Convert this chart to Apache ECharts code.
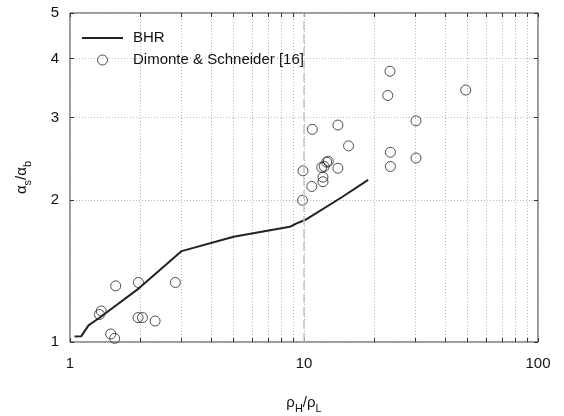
<!DOCTYPE html>
<html>
<head>
<meta charset="utf-8">
<script src="https://cdn.jsdelivr.net/npm/echarts@6/dist/echarts.min.js"></script>
<style>
  html, body { margin: 0; padding: 0; background: #fff; }
  #chart { width: 564px; height: 416px; }
</style>
</head>
<body>
<div id="chart"></div>
<script>
// BHR model curve
var bhrX = [1.045, 1.116, 1.2, 1.35, 1.97, 3.0, 5.0, 8.7, 9.3, 10.1, 14.5, 18.8];
var bhrY = [1.027, 1.028, 1.085, 1.13, 1.30, 1.56, 1.673, 1.757, 1.787, 1.816, 2.03, 2.21];

// Dimonte & Schneider [16] experiments
var dsX = [1.568, 1.96, 2.82, 1.36, 1.336, 1.954, 2.04, 2.31, 1.493, 1.552,
  9.9, 10.85, 13.96, 15.5, 11.9, 12.2, 12.5, 12.7, 13.96, 12.05, 12.05, 10.8, 9.85,
  23.3, 22.8, 49.1, 30.1, 23.4, 30.1, 23.4];
var dsY = [1.316, 1.338, 1.338, 1.164, 1.144, 1.127, 1.127, 1.108, 1.04, 1.018,
  2.31, 2.83, 2.89, 2.61, 2.35, 2.36, 2.41, 2.42, 2.34, 2.24, 2.19, 2.14, 2.0,
  3.76, 3.34, 3.43, 2.95, 2.53, 2.46, 2.36];

var xTicks = [1, 2, 3, 4, 5, 6, 7, 8, 9, 10, 20, 30, 40, 50, 60, 70, 80, 90, 100];
var xLabels = [1, 10, 100];
var yTicks = [1, 2, 3, 4, 5];
var refX = 10;

var FONT = "Liberation Sans";

var chart = echarts.init(document.getElementById("chart"));

function zip(xs, ys) {
  return xs.map(function (x, i) { return [x, ys[i]]; });
}

var gridLine = { show: true, lineStyle: { color: "#b8b8b8", width: 1, type: [1, 2] } };

var subRich = {
  a: { fontFamily: FONT, fontSize: 15, color: "#111", lineHeight: 16, verticalAlign: "top" },
  s: { fontFamily: FONT, fontSize: 11, color: "#111", lineHeight: 11, padding: [8, 0, 0, 0], verticalAlign: "top" }
};

var option = {
  animation: false,
  grid: {
    left: 70, right: 26, top: 13, bottom: 74,
    outerBoundsMode: "none",
    show: true, borderColor: "#333", borderWidth: 1, backgroundColor: "transparent"
  },
  legend: {
    left: 82, top: 30, orient: "vertical", padding: 0,
    itemWidth: 41, itemHeight: 10, itemGap: 6,
    textStyle: { fontFamily: FONT, fontSize: 15, color: "#111", padding: [0, 0, 0, 5], lineHeight: 16 },
    data: [
      { name: "BHR", icon: "path://M0,0 L41,0 L41,2 L0,2 Z" },
      { name: "Dimonte & Schneider [16]", icon: "circle",
        itemStyle: { color: "rgba(255,255,255,0)", borderColor: "#222", borderWidth: 1 } }
    ]
  },
  xAxis: [
    {
      type: "log", min: 1, max: 100, logBase: 10,
      name: "{a|ρ}{s|H}{a|/ρ}{s|L}", nameLocation: "middle", nameGap: 53,
      nameTextStyle: { rich: subRich },
      axisLine: { show: false },
      axisTick: { show: true, inside: true, length: 4, customValues: xTicks, lineStyle: { color: "#333" } },
      axisLabel: { customValues: xLabels, margin: 14, fontFamily: FONT, fontSize: 15, color: "#111" },
      splitLine: gridLine
    },
    {
      type: "log", min: 1, max: 100, logBase: 10, position: "top",
      axisLine: { show: false },
      axisTick: { show: true, inside: true, length: 4, customValues: xTicks, lineStyle: { color: "#333" } },
      axisLabel: { show: false },
      splitLine: { show: false }
    }
  ],
  yAxis: [
    {
      type: "log", min: 1, max: 5, logBase: 10,
      name: "{a|α}{s|s}{a|/α}{s|b}", nameLocation: "middle", nameGap: 40,
      nameTextStyle: { rich: subRich },
      axisLine: { show: false },
      axisTick: { show: true, inside: true, length: 4, customValues: yTicks, lineStyle: { color: "#333" } },
      axisLabel: { customValues: yTicks, margin: 11, fontFamily: FONT, fontSize: 15, color: "#111" },
      splitLine: gridLine
    },
    {
      type: "log", min: 1, max: 5, logBase: 10, position: "right",
      axisLine: { show: false },
      axisTick: { show: true, inside: true, length: 4, customValues: yTicks, lineStyle: { color: "#333" } },
      axisLabel: { show: false },
      splitLine: { show: false }
    }
  ],
  series: [
    {
      name: "BHR", type: "line", data: zip(bhrX, bhrY),
      symbol: "none", smooth: false,
      lineStyle: { color: "#222", width: 2 },
      itemStyle: { color: "#222" },
      markLine: {
        silent: true, symbol: "none", label: { show: false },
        lineStyle: { color: "#c4c4c4", width: 1.5, type: [9, 4] },
        data: [{ xAxis: refX }]
      },
      z: 3
    },
    {
      name: "Dimonte & Schneider [16]", type: "scatter", data: zip(dsX, dsY),
      symbol: "circle", symbolSize: 10,
      itemStyle: { color: "rgba(255,255,255,0)", borderColor: "#222", borderWidth: 1 },
      z: 4
    }
  ]
};

chart.setOption(option);
</script>
</body>
</html>
